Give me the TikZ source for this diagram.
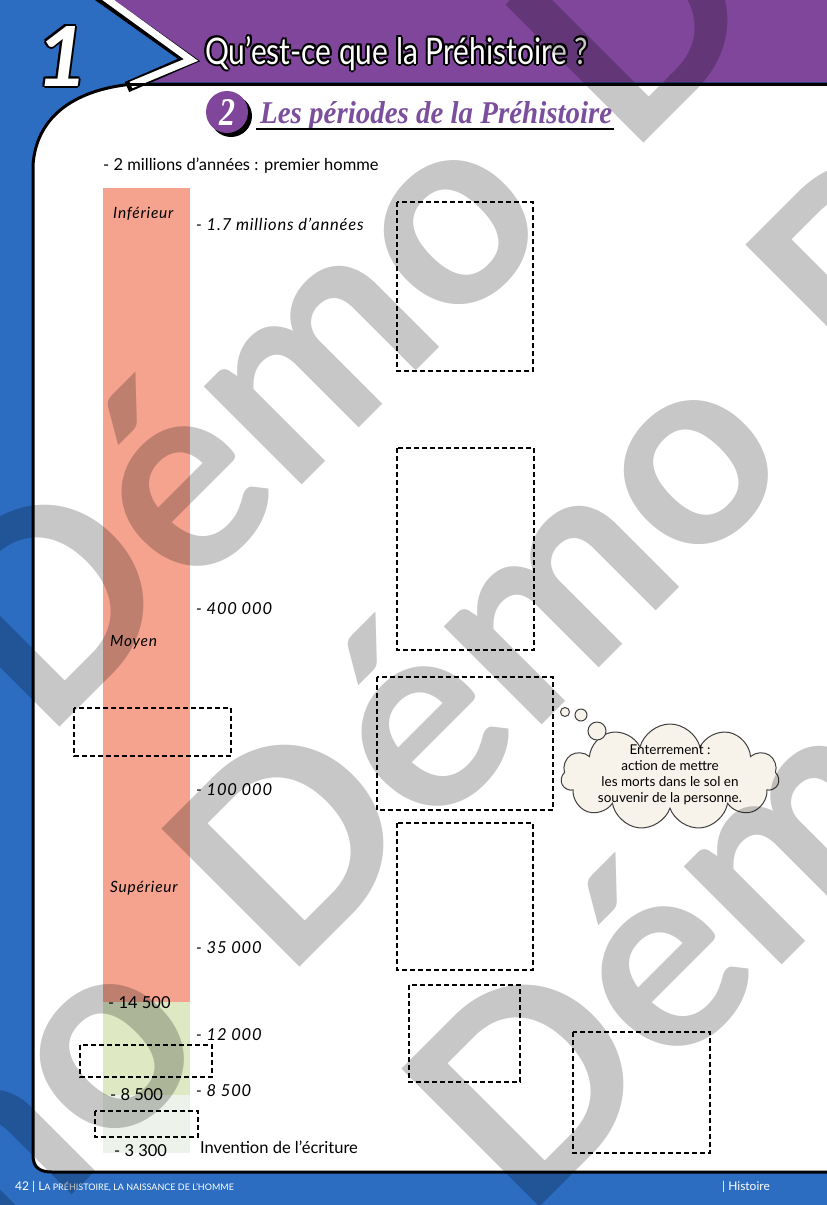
\documentclass[tikz,border=0pt]{standalone}
\usepackage{fontspec}
\usepackage{graphicx}
\setmainfont{Lato}
\newfontfamily\policetitre{Liberation Serif}
\usetikzlibrary{shapes.symbols}

\definecolor{bleupage}{HTML}{2C6DC2}
\definecolor{violetbande}{HTML}{80469B}
\definecolor{violettitre}{HTML}{7B4F9D}
\definecolor{saumon}{HTML}{F5A38F}
\definecolor{vertclair}{HTML}{DEE8C3}
\definecolor{vertpale}{HTML}{EDF3EA}
\definecolor{beigenuage}{HTML}{F7F3EA}

\begin{document}
\begin{tikzpicture}[x=1pt,y=-1pt,
  cadre/.style={draw=black,line width=1.8pt,dash pattern=on 5pt off 3pt},
  texte/.style={font=\fontsize{16.5}{16.5}\selectfont,inner sep=0pt,anchor=base west},
  date/.style={font=\itshape\fontsize{16.5}{16.5}\selectfont\addfontfeature{LetterSpace=5},inner sep=0pt,anchor=base west},
  periode/.style={font=\itshape\fontsize{15.5}{15.5}\selectfont\addfontfeature{LetterSpace=5},inner sep=0pt,anchor=base west},
  bulle/.style={circle,draw=black!75,fill=beigenuage,line width=1pt,inner sep=0pt},
  pied/.style={text=white,font=\fontsize{12}{12}\selectfont,inner sep=0pt,anchor=base west}]

\useasboundingbox (0,0) rectangle (827,1205);

% Fond et page
\fill[bleupage] (0,0) rectangle (827,1205);
\filldraw[fill=white,draw=black,line width=3pt]
  (860,84) -- (133,84) .. controls (70,90) and (36,120) .. (33,165)
  -- (33,1155) .. controls (33,1167) and (39,1172) .. (52,1172) -- (860,1172);

% Bandeau
\fill[violetbande] (113,0) -- (195,61) -- (135,82) -- (827,82) -- (827,0) -- cycle;
\draw[black,line width=11pt] (96,-6) -- (189,60) -- (127,87);
\draw[white,line width=7pt] (100,-6) -- (191,60) -- (131,85);
\draw[line width=3pt] (130,84) -- (827,84);

\foreach \dx/\dy in {-2/0,2/0,0/-2,0/2,-1.5/-1.5,1.5/1.5,-1.5/1.5,1.5/-1.5}
{
\node[inner sep=0pt,anchor=base west] at ([shift={(\dx,\dy)}]36,86)
  {\resizebox{52pt}{60pt}{\bfseries\itshape 1}};
\node[inner sep=0pt,anchor=base west] at ([shift={(\dx,\dy)}]205,64)
  {\resizebox{383pt}{28pt}{Qu’est-ce que la Préhistoire ?}};
}
\node[inner sep=0pt,anchor=base west,text=white] (numero) at (36,86)
  {\resizebox{52pt}{60pt}{\bfseries\itshape 1}};
\node[inner sep=0pt,anchor=base west,text=white] (titre) at (205,64)
  {\resizebox{383pt}{28pt}{Qu’est-ce que la Préhistoire ?}};

% Sous-titre
\fill[black] (231,116) circle (21);
\node[circle,fill=violetbande,minimum size=42pt,inner sep=0pt] (rond) at (227,112) {};
\node[text=white,inner sep=0pt] at (rond)
  {\resizebox{16pt}{26pt}{\policetitre\bfseries\itshape 2}};
\node[inner sep=0pt,anchor=base west,text=violettitre] (soustitre) at (260,123)
  {\resizebox{352pt}{22pt}{\policetitre\bfseries\itshape Les périodes de la Préhistoire}};
\draw[line width=2.5pt] (256,129) -- (614,129);

% Frise
\fill[saumon] (103,188) rectangle (190,1002);
\fill[vertclair] (103,1002) rectangle (190,1095);
\fill[vertpale] (103,1095) rectangle (190,1153);

\node[texte] (debut) at (103,170) {- 2 millions d’années : premier homme};
\node[periode] (inferieur) at (113,218) {Inférieur};
\node[periode] (moyen) at (110,646) {Moyen};
\node[periode] (superieur) at (110,892) {Supérieur};

\node[date] (d1) at (196,230) {- 1.7 millions d’années};
\node[date] (d2) at (196,614) {- 400 000};
\node[date] (d3) at (196,795) {- 100 000};
\node[date] (d4) at (196,953) {- 35 000};
\node[date] (d5) at (196,1040) {- 12 000};
\node[date] (d6) at (196,1096) {- 8 500};
\node[texte] (ecriture) at (200,1153) {Invention de l’écriture};

\node[texte] (g1) at (108,1008) {- 14 500};
\node[texte] (g2) at (110,1100) {- 8 500};
\node[texte] (g3) at (114,1156) {- 3 300};

% Cadres
\foreach \xa/\ya/\xb/\yb in {397/202/533/371,397/448/534/650,377/677/553/810,
  397/823/533/970,409/985/520/1082,573/1032/710/1153,
  74/708/231/756,80/1045/212/1077,95/1111/198/1137}
{
\draw[cadre] (\xa,\ya) rectangle (\xb,\yb);
}

% Nuage
\node[cloud,cloud puffs=11,cloud ignores aspect,draw=black!75,fill=beigenuage,
  line width=1pt,minimum width=218pt,minimum height=106pt] (nuage) at (670,777) {};
\node[align=center,font=\fontsize{13.5}{16}\selectfont] (legende) at ([yshift=2pt]nuage.center)
  {Enterrement :\\action de mettre\\les morts dans le sol en\\souvenir de la personne.};
\node[bulle,minimum size=9pt] (b1) at (565,712) {};
\node[bulle,minimum size=12pt] (b2) at (581,715) {};
\node[bulle,minimum size=18pt] (b3) at (597,731) {};

% Pied de page
\node[pied] (page) at (15,1190)
  {42 | L{\fontsize{9}{9}\selectfont A PRÉHISTOIRE, LA NAISSANCE DE L’HOMME}};
\node[pied] (matiere) at (722,1190) {| Histoire};

% Filigrane
\begin{scope}[blend mode=multiply]
\foreach \k in {-1,0,1,2}
\foreach \j in {-1,0,1}
{
\node[rotate=45,anchor=base west,inner sep=0pt,text=black!22,
  font=\bfseries\fontsize{270}{270}\selectfont]
  at ({284+240*\k+584*\j},{983+240*\k-584*\j}) {Démo};
}
\end{scope}

\end{tikzpicture}
\end{document}
